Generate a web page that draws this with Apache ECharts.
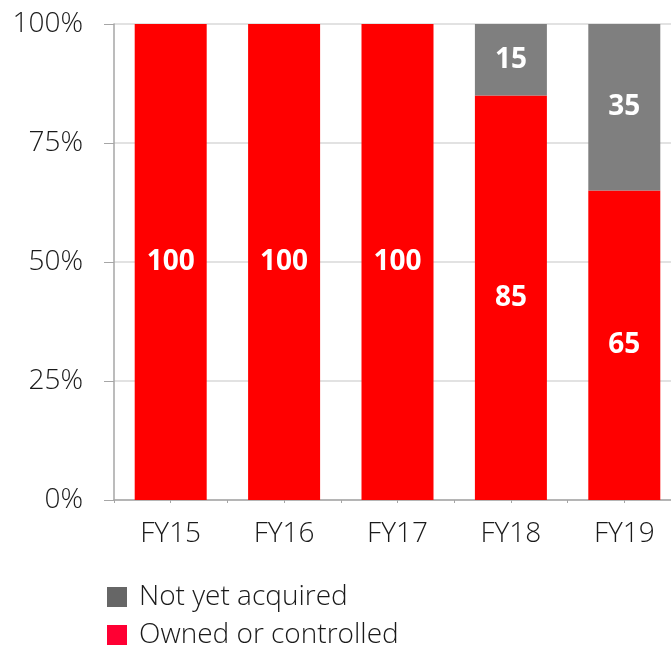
<!DOCTYPE html>
<html lang="en">
<head>
    <meta charset="UTF-8">
    <title>Owned or controlled</title>
    <style>
      * { padding: 0; margin: 0; }
      body { background: #fff; }
    </style>
</head>
<body>
    <div id="main" style="width: 671px;height:646px;"></div>
    <script src="https://cdn.jsdelivr.net/npm/echarts@6/dist/echarts.min.js"></script>
    <script>
        var categories = ['FY15', 'FY16', 'FY17', 'FY18', 'FY19'];
        var owned = [100, 100, 100, 85, 65];
        var notYet = [null, null, null, 15, 35];
        var yTicks = [0, 25, 50, 75, 100];

        var font = '"Open Sans", sans-serif';
        var txt = { fontFamily: font, fontSize: 28, fontWeight: 300, color: '#1a1a1a' };

        // one legend per row, the reference stacks them vertically
        function legendRow(name, color, top) {
            return {
                left: 102, top: top, itemWidth: 20, itemHeight: 20, icon: 'rect',
                textStyle: Object.assign({ padding: [0, 0, 0, 7] }, txt),
                data: [{ name: name, itemStyle: { color: color } }]
            };
        }

        var option = {
            animation: false,
            grid: { left: 114, top: 24, width: 567, height: 476, outerBoundsMode: 'none', containLabel: false },
            legend: [
                legendRow('Not yet acquired', '#666666', 578),
                legendRow('Owned or controlled', '#ff0033', 616)
            ],
            xAxis: [{
                type: 'category',
                data: categories,
                axisLine: { lineStyle: { color: '#a6a6a6', width: 1.5 } },
                axisTick: { show: true, length: 3, lineStyle: { color: '#a6a6a6' } },
                axisLabel: Object.assign({ margin: 20 }, txt)
            }, {
                type: 'category',
                data: categories,
                position: 'bottom',
                axisLine: { show: false },
                axisTick: { show: true, alignWithLabel: true, length: 3, lineStyle: { color: '#a6a6a6' } },
                axisLabel: { show: false }
            }],
            yAxis: {
                type: 'value',
                min: 0,
                max: 100,
                interval: 25,
                axisLine: { show: true, lineStyle: { color: '#a6a6a6', width: 1.5 } },
                axisTick: { show: true, length: 10, lineStyle: { color: '#a6a6a6' } },
                splitLine: { show: true, lineStyle: { color: '#d9d9d9', width: 1.5 } },
                axisLabel: Object.assign({
                    margin: 31,
                    formatter: function (v) { return yTicks.indexOf(v) >= 0 ? v + '%' : ''; }
                }, txt)
            },
            series: [{
                name: 'Owned or controlled',
                type: 'bar',
                stack: 'total',
                barWidth: 72,
                data: owned,
                itemStyle: { color: '#ff0000' },
                label: { show: true, position: 'inside', color: '#fff', fontFamily: font, fontWeight: 'bold', fontSize: 28 }
            }, {
                name: 'Not yet acquired',
                type: 'bar',
                stack: 'total',
                barWidth: 72,
                data: notYet,
                itemStyle: { color: '#7f7f7f' },
                label: { show: true, position: 'inside', color: '#fff', fontFamily: font, fontWeight: 'bold', fontSize: 28 }
            }]
        };

        var myChart = echarts.init(document.getElementById('main'));
        myChart.setOption(option);
    </script>
</body>
</html>
